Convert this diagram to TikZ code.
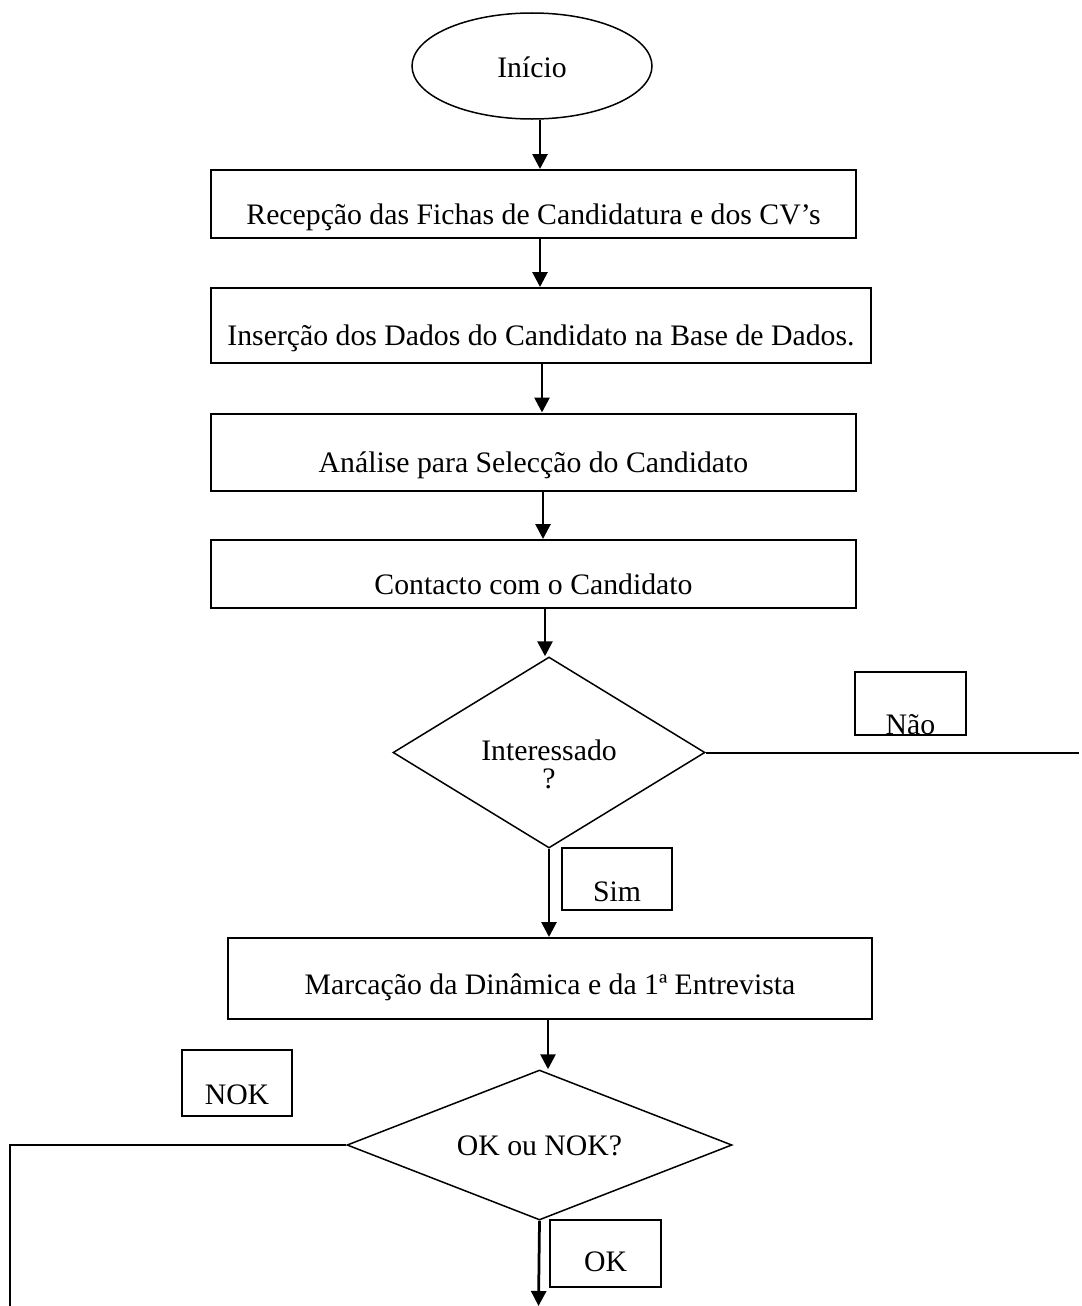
\documentclass[tikz,border=0pt]{standalone}
\usepackage{fontspec}
\setmainfont{Liberation Serif}
\usetikzlibrary{shapes.geometric,arrows.meta}

\begin{document}
\begin{tikzpicture}[x=0.4pt,y=-0.4pt,
        every node/.style = {font=\fontsize{11.9}{14}\selectfont, align=center},
        stepbox/.style = {draw, line width=0.8pt, rectangle, minimum height=27.2pt,
          inner ysep=2pt, text height=16pt, text depth=0pt},
        startnode/.style = {draw, line width=0.6pt, ellipse, minimum width=96pt,
          minimum height=42.4pt, text height=8.8pt, text depth=0pt},
        choice/.style = {draw, line width=0.6pt, diamond, inner sep=0pt},
        tag/.style = {draw, line width=0.8pt, rectangle, inner sep=0pt,
          text height=16.8pt, text depth=0pt},
        flow/.style = {-{Triangle[length=6pt,width=6pt]}, line width=1.1pt}
        ]
    \useasboundingbox (0,0) rectangle (1081,1306);
    % fluxo principal
    \node[startnode] (inicio) at (532,66) {Início};
    \node[stepbox, minimum width=258pt] (fichas) at (533.5,204)
        {Recepção das Fichas de Candidatura e dos CV’s};
    \node[stepbox, minimum width=264pt, minimum height=30pt] (dados) at (541,325.5)
        {Inserção dos Dados do Candidato na Base de Dados.};
    \node[stepbox, minimum width=258pt, minimum height=30.8pt] (analise) at (533.5,452)
        {Análise para Selecção do Candidato};
    \node[stepbox, minimum width=258pt] (contacto) at (533.5,574)
        {Contacto com o Candidato};
    \node[choice, shape aspect=1.6, minimum width=124.8pt, minimum height=76.4pt,
          text height=28.8pt, text depth=0pt,
          font=\fontsize{11.9}{11.2}\selectfont] (interesse) at (549,752.5)
        {Interessado\\?};
    \node[stepbox, minimum width=257.6pt, minimum height=32.4pt, text height=13pt] (marcacao) at (550,978.5)
        {Marcação da Dinâmica e da 1ª Entrevista};
    \node[choice, shape aspect=2.5, minimum width=154pt, minimum height=60pt,
          text height=8pt, text depth=0pt] (avaliacao) at (539.5,1145)
        {OK ou NOK?};
    % etiquetas
    \node[tag, minimum width=44.4pt, minimum height=25.2pt, text height=24.6pt] (nao) at (910.5,703.5) {Não};
    \node[tag, minimum width=44pt, minimum height=24.8pt, text height=17.6pt] (sim) at (617,879) {Sim};
    \node[tag, minimum width=44pt, minimum height=26.4pt] (nok) at (237,1083) {NOK};
    \node[tag, minimum width=44.4pt, minimum height=26.8pt, text height=14pt] (ok) at (605.5,1253.5) {OK};
    % pontas livres
    \coordinate (naofim) at (1079,752.5);
    \coordinate (nokfim) at (10,1306);
    \coordinate (okfim) at (538.5,1306);
    % ligacoes
    \draw[flow] ([xshift=3.2pt]inicio.south) coordinate (i1) -- (i1 |- fichas.north);
    \draw[flow] ([xshift=2.6pt]fichas.south) coordinate (f1) -- (f1 |- dados.north);
    \draw[flow] ([xshift=0.4pt]dados.south) coordinate (d1) -- (d1 |- analise.north);
    \draw[flow] ([xshift=3.8pt]analise.south) coordinate (a1) -- (a1 |- contacto.north);
    \draw[flow] ([xshift=4.6pt]contacto.south) coordinate (c1) -- (c1 |- interesse.north);
    \draw[flow] (interesse.south) -- (interesse.south |- marcacao.north);
    \draw[flow] ([xshift=-0.8pt]marcacao.south) coordinate (m1) -- (m1 |- avaliacao.north);
    \draw[line width=0.8pt] (interesse.east) -- (naofim);
    \draw[line width=0.8pt] (avaliacao.west) -| (nokfim);
    \draw[flow] (avaliacao.south) -- (okfim);
\end{tikzpicture}
\end{document}
